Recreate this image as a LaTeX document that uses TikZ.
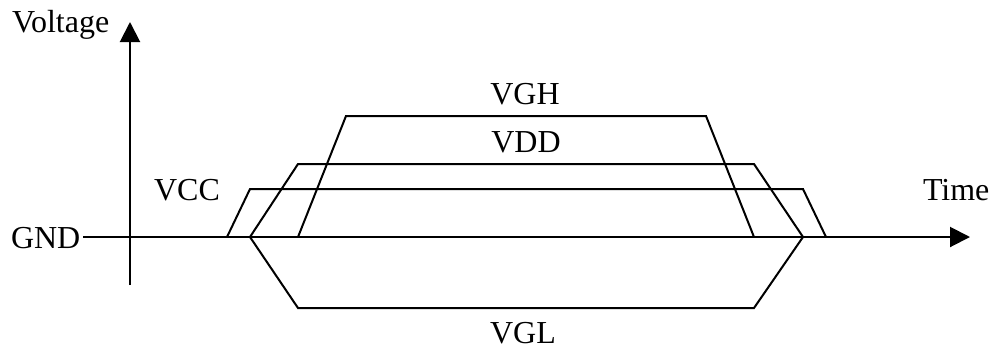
\documentclass[tikz,border=0pt]{standalone}
\usepackage{fontspec}
\setmainfont{Liberation Serif}
\usetikzlibrary{positioning}
\usetikzlibrary{arrows.meta}

\begin{document}
\begin{tikzpicture}[
            x = 0.5pt, y = -0.5pt, % one unit per pixel, y downwards
            > = {Triangle[length=10pt, width=10pt]}, % arrow head style
            line width = 1pt, % line style
            font = \fontsize{16}{19}\selectfont
        ]

        \tikzstyle{txt}=[
            inner sep = 0pt,
            anchor = base
        ]
        \tikzstyle{wave}=[
            line join = miter
        ]

        \useasboundingbox (0,0) rectangle (991,349);

	% axes
        \node[txt, anchor=base west] (volt) at (11,32) {Voltage};
        \node[txt, anchor=base west] (gnd) at (10,248) {GND};
        \node[txt, anchor=base west] (time) at (922,200) {Time};

        \coordinate (ybot) at (130,285);
        \coordinate (ytop) at (130,22);
        \coordinate (xend) at (970,237);

        \draw[->] (ybot) -- (ytop);
        \draw[->] ([xshift=1pt]gnd.east |- xend) -- (xend);

         % rails
         \coordinate (vcc1) at (227,237);
         \coordinate (vcc2) at (250,189);
         \coordinate (vcc3) at (803,189);
         \coordinate (vcc4) at (826,237);

         \coordinate (vdd1) at (250,237);
         \coordinate (vdd2) at (298,164);
         \coordinate (vdd3) at (754,164);
         \coordinate (vdd4) at (803,237);

         \coordinate (vgh1) at (298,237);
         \coordinate (vgh2) at (346,116);
         \coordinate (vgh3) at (706,116);
         \coordinate (vgh4) at (754,237);

         \coordinate (vgl1) at (250,237);
         \coordinate (vgl2) at (298,308);
         \coordinate (vgl3) at (754,308);
         \coordinate (vgl4) at (803,237);

         \draw[wave] (vcc1) -- (vcc2) -- (vcc3) -- (vcc4);
         \draw[wave] (vdd1) -- (vdd2) -- (vdd3) -- (vdd4);
         \draw[wave] (vgh1) -- (vgh2) -- (vgh3) -- (vgh4);
         \draw[wave] (vgl1) -- (vgl2) -- (vgl3) -- (vgl4);

         % labels
         \node[txt] (VCC) at (187,200) {VCC};
         \node[txt] (VDD) at (526,152) {VDD};
         \node[txt] (VGH) at (525,104) {VGH};
         \node[txt] (VGL) at (523,343) {VGL};

  \end{tikzpicture}
\end{document}
